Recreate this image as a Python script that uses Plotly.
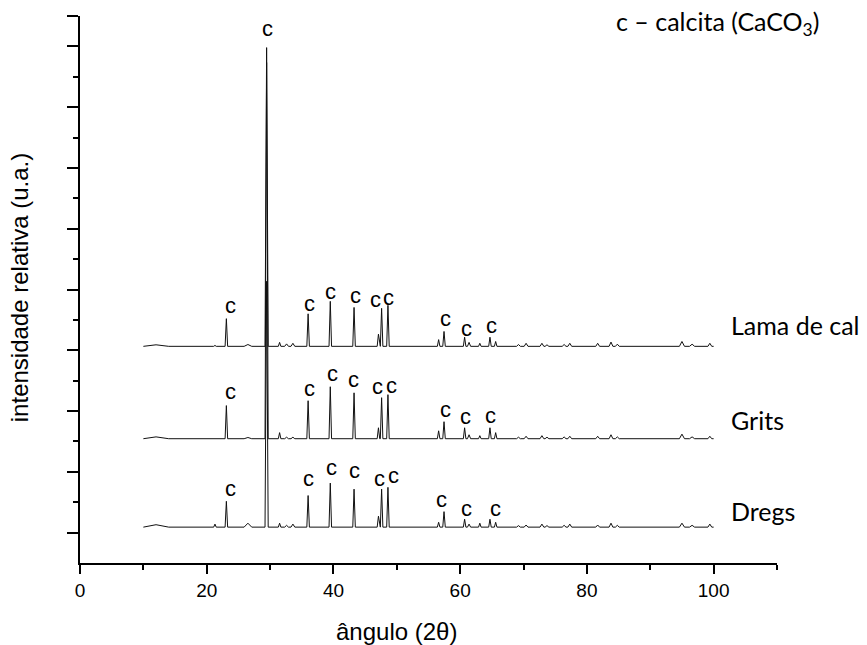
import plotly.graph_objects as go

# ---- data (2theta in degrees, intensities in relative units) ----
peak_pos = [12.0, 21.3, 23.1, 26.5, 29.45, 31.5, 32.6, 33.6, 36.0, 39.5, 43.25, 47.1, 47.6, 48.6,
            56.6, 57.45, 60.7, 61.4, 63.1, 64.7, 65.6, 69.2, 70.4, 72.9, 73.7, 76.4, 77.3,
            81.7, 83.8, 84.8, 95.0, 96.6, 99.4]
peak_hw = [2.0, 0.2, 0.2, 0.6, 0.25, 0.2, 0.3, 0.3, 0.2, 0.2, 0.2, 0.2, 0.2, 0.2,
           0.2, 0.2, 0.2, 0.25, 0.2, 0.2, 0.2, 0.3, 0.3, 0.3, 0.3, 0.3, 0.3,
           0.3, 0.3, 0.3, 0.4, 0.4, 0.3]

lama_h = [0.05, 0.03, 0.91, 0.06, 9.83, 0.13, 0.08, 0.10, 1.07, 1.48, 1.28, 0.40, 1.25, 1.35,
          0.22, 0.49, 0.30, 0.13, 0.10, 0.30, 0.16, 0.06, 0.10, 0.10, 0.05, 0.06, 0.10,
          0.10, 0.14, 0.07, 0.16, 0.07, 0.10]
grits_h = [0.06, 0.02, 1.09, 0.04, 12.38, 0.20, 0.05, 0.05, 1.25, 1.71, 1.51, 0.36, 1.35, 1.45,
           0.26, 0.56, 0.36, 0.13, 0.10, 0.36, 0.20, 0.05, 0.08, 0.10, 0.05, 0.06, 0.08,
           0.08, 0.13, 0.06, 0.15, 0.06, 0.08]
dregs_h = [0.08, 0.10, 0.85, 0.13, 8.09, 0.13, 0.06, 0.10, 1.04, 1.45, 1.25, 0.36, 1.25, 1.31,
           0.16, 0.51, 0.26, 0.10, 0.13, 0.26, 0.16, 0.05, 0.07, 0.10, 0.05, 0.06, 0.10,
           0.07, 0.13, 0.06, 0.13, 0.06, 0.10]

sample_names = ["Lama de cal", "Grits", "Dregs"]
sample_offsets = [7.13, 4.09, 1.18]
scan_start, scan_end = 10.0, 100.0

# "c" (calcite) label positions for each pattern
lama_lx = [23.69, 36.23, 39.51, 43.51, 46.68, 48.73, 57.71, 61.03, 64.98]
lama_ly = [8.48, 8.54, 8.95, 8.81, 8.67, 8.73, 8.04, 7.72, 7.82]
grits_lx = [23.69, 36.23, 39.92, 43.24, 46.95, 49.16, 57.71, 60.76, 64.83]
grits_ly = [5.63, 5.74, 6.24, 6.04, 5.80, 5.85, 5.05, 4.81, 4.84]
dregs_lx = [23.69, 36.12, 39.67, 43.35, 47.20, 49.53, 57.07, 61.03, 65.51]
dregs_ly = [2.46, 2.78, 3.15, 3.03, 2.78, 2.89, 2.10, 1.80, 1.80]
main_label = (29.54, 17.59)

name_x = 102.4
name_y = [7.82, 4.70, 1.71]

x_ticks = [0, 20, 40, 60, 80, 100]
x_minor = [10, 30, 50, 70, 90, 110]
y_major = [1, 3, 5, 7, 9, 11, 13, 15, 17, 18]
y_minor = [2, 4, 6, 8, 10, 12, 14, 16]


def pattern(base, heights):
    xs, ys = [scan_start], [base]
    for p, h, w in zip(peak_pos, heights, peak_hw):
        xs += [p - w, p, p + w]
        ys += [base, base + h, base]
    xs.append(scan_end)
    ys.append(base)
    return xs, ys


fig = go.Figure()
for name, off, hts in zip(sample_names, sample_offsets, [lama_h, grits_h, dregs_h]):
    xs, ys = pattern(off, hts)
    fig.add_trace(go.Scatter(x=xs, y=ys, mode="lines", name=name,
                             line=dict(color="#111111", width=1), hoverinfo="skip"))

lab_font = dict(family="Liberation Sans, Arial, sans-serif", size=22, color="black")
ann = []
for lx, ly in [(lama_lx, lama_ly), (grits_lx, grits_ly), (dregs_lx, dregs_ly)]:
    for x, y in zip(lx, ly):
        ann.append(dict(x=x, y=y, text="c", showarrow=False, font=lab_font,
                        xanchor="center", yanchor="middle"))
ann.append(dict(x=main_label[0], y=main_label[1], text="c", showarrow=False, font=lab_font,
                xanchor="center", yanchor="middle"))

name_font = dict(family="Lato, sans-serif", size=25, color="black")
for nm, ny in zip(sample_names, name_y):
    ann.append(dict(x=name_x, y=ny, text=nm, showarrow=False, font=name_font,
                    xanchor="left", yanchor="middle"))

ann.append(dict(x=84.3, y=17.78, text="c \u2013 calcita (CaCO<sub>3</sub>)", showarrow=False,
                font=name_font, xanchor="left", yanchor="middle"))

axis_font = dict(family="Liberation Sans, Arial, sans-serif", size=24, color="black")
ann.append(dict(x=50, y=-0.125, xref="x", yref="paper", text="\u00e2ngulo (2\u03b8)",
                showarrow=False, font=axis_font, xanchor="center", yanchor="middle"))
ann.append(dict(x=-0.087, y=0.503, xref="paper", yref="paper", text="intensidade relativa (u.a.)",
                showarrow=False, font=axis_font, textangle=-90, xanchor="center", yanchor="middle"))

fig.update_layout(
    width=867, height=645, autosize=False,
    margin=dict(l=80, r=90, t=16, b=82),
    plot_bgcolor="white", paper_bgcolor="white",
    showlegend=False, hovermode=False,
    annotations=ann,
    xaxis=dict(range=[0, 110], showline=True, linecolor="black", linewidth=2,
               ticks="outside", ticklen=9, tickwidth=2, tickcolor="black",
               tickvals=x_ticks, ticktext=[str(v) for v in x_ticks],
               tickfont=dict(family="Liberation Sans, Arial, sans-serif", size=19, color="black"),
               minor=dict(tickvals=x_minor, ticks="outside", ticklen=5, tickwidth=2, tickcolor="black"),
               showgrid=False, zeroline=False),
    yaxis=dict(range=[0, 18], showline=True, linecolor="black", linewidth=2,
               ticks="outside", ticklen=11, tickwidth=2, tickcolor="black",
               tickvals=y_major, showticklabels=False,
               minor=dict(tickvals=y_minor, ticks="outside", ticklen=5, tickwidth=2, tickcolor="black"),
               showgrid=False, zeroline=False),
)

fig.write_html("out.html", config={"displayModeBar": False},
               post_script="document.body.style.margin='0px';document.body.style.overflow='hidden';")
